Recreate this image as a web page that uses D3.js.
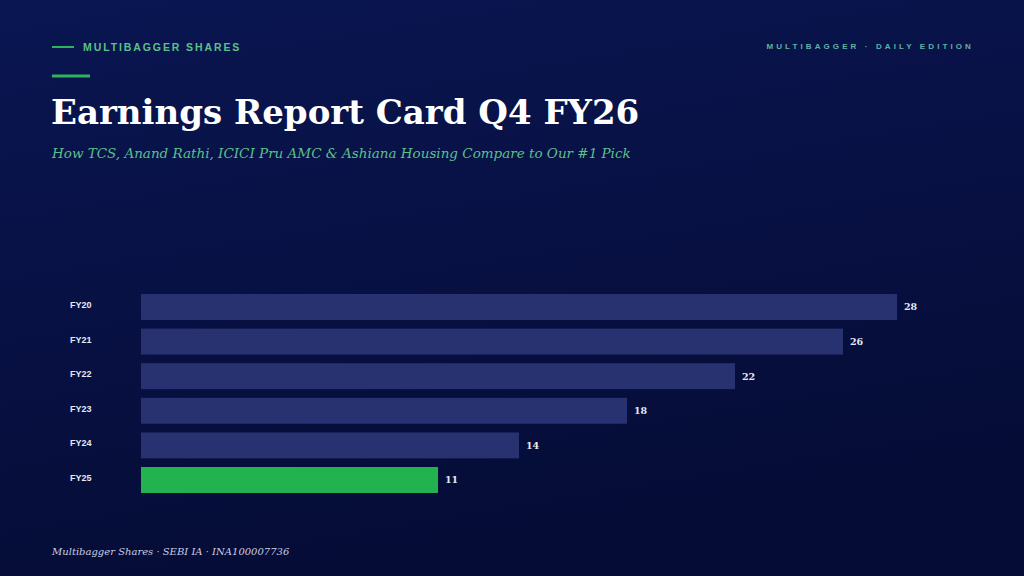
<!DOCTYPE html>
<html>
<head>
<meta charset="utf-8">
<script src="https://cdn.jsdelivr.net/npm/d3@7"></script>
<style>
  html, body { margin: 0; padding: 0; background: #07103f; }
  svg { display: block; }
</style>
</head>
<body>
<div class="container"></div>
<script>
var years = ['FY20', 'FY21', 'FY22', 'FY23', 'FY24', 'FY25'];
var values = [28, 26, 22, 18, 14, 11];
var highlight = ['FY25'];

var drawChart = function () {

    var WIDTH = 1024;
    var HEIGHT = 576;
    var SERIF = "Georgia, 'DejaVu Serif', serif";
    var SANS = "'Liberation Sans', Arial, sans-serif";

    var svg = d3.select('.container')
        .append('svg')
        .attr('width', WIDTH)
        .attr('height', HEIGHT);

    var grad = svg.append('defs').append('linearGradient')
        .attr('id', 'bg')
        .attr('x1', 0).attr('y1', 0)
        .attr('x2', 0.3).attr('y2', 1);
    grad.append('stop').attr('offset', '0%').attr('stop-color', '#0a1652');
    grad.append('stop').attr('offset', '100%').attr('stop-color', '#050c36');

    svg.append('rect')
        .attr('width', WIDTH)
        .attr('height', HEIGHT)
        .attr('fill', 'url(#bg)');

    // header
    svg.append('line')
        .attr('x1', 52).attr('x2', 74)
        .attr('y1', 47).attr('y2', 47)
        .attr('stroke', '#2fb35a')
        .attr('stroke-width', 2);

    svg.append('text')
        .attr('x', 83).attr('y', 51)
        .attr('fill', '#5cc08a')
        .attr('font-family', SANS)
        .attr('font-weight', 'bold')
        .attr('font-size', 10.5)
        .attr('letter-spacing', 1.9)
        .text('MULTIBAGGER SHARES');

    svg.append('text')
        .attr('x', 974).attr('y', 49)
        .attr('text-anchor', 'end')
        .attr('fill', '#5fb3a0')
        .attr('font-family', SANS)
        .attr('font-weight', 'bold')
        .attr('font-size', 8)
        .attr('letter-spacing', 3.1)
        .text('MULTIBAGGER \u00b7 DAILY EDITION');

    svg.append('line')
        .attr('x1', 52).attr('x2', 90)
        .attr('y1', 76).attr('y2', 76)
        .attr('stroke', '#2fb35a')
        .attr('stroke-width', 3);

    svg.append('text')
        .attr('x', 51).attr('y', 124)
        .attr('fill', '#ffffff')
        .attr('font-family', SERIF)
        .attr('font-weight', 'bold')
        .attr('font-size', 34)
        .text('Earnings Report Card Q4 FY26');

    svg.append('text')
        .attr('x', 52).attr('y', 158)
        .attr('fill', '#5cc08a')
        .attr('font-family', SERIF)
        .attr('font-style', 'italic')
        .attr('font-size', 13.5)
        .text('How TCS, Anand Rathi, ICICI Pru AMC & Ashiana Housing Compare to Our #1 Pick');

    // chart
    var xScale = d3.scaleLinear()
        .domain([0, 28])
        .range([141, 897]);

    var yScale = d3.scaleBand()
        .domain(years)
        .range([289.7, 497.3])
        .paddingInner(0.25)
        .paddingOuter(0.125);

    var yAxis = d3.axisLeft(yScale).tickSize(0).tickPadding(0);

    var axisG = svg.append('g')
        .attr('transform', 'translate(70,0)')
        .call(yAxis);
    axisG.select('.domain').remove();
    axisG.selectAll('text')
        .attr('text-anchor', 'start')
        .attr('fill', '#e6e8f2')
        .attr('font-family', SANS)
        .attr('font-weight', 'bold')
        .attr('font-size', 9)
        .attr('dy', '0.1em');

    var rows = years.map(function (y, i) {
        return {year: y, value: values[i]};
    });

    svg.append('g')
        .selectAll('rect')
        .data(rows)
        .enter()
        .append('rect')
        .attr('x', xScale(0))
        .attr('y', function (d) { return yScale(d.year); })
        .attr('width', function (d) { return xScale(d.value) - xScale(0); })
        .attr('height', yScale.bandwidth())
        .attr('fill', function (d) {
            return highlight.indexOf(d.year) >= 0 ? '#22b350' : '#283270';
        });

    svg.append('g')
        .selectAll('text')
        .data(rows)
        .enter()
        .append('text')
        .attr('x', function (d) { return xScale(d.value) + 7; })
        .attr('y', function (d) { return yScale(d.year) + yScale.bandwidth() / 2; })
        .attr('dy', '0.35em')
        .attr('fill', '#e6e8f2')
        .attr('font-family', SERIF)
        .attr('font-weight', 'bold')
        .attr('font-size', 9.5)
        .text(function (d) { return d.value; });

    // footer
    svg.append('text')
        .attr('x', 52).attr('y', 555)
        .attr('fill', '#c9cde3')
        .attr('font-family', SERIF)
        .attr('font-style', 'italic')
        .attr('font-size', 10)
        .text('Multibagger Shares \u00b7 SEBI IA \u00b7 INA100007736');
};

window.onload = drawChart;
</script>
</body>
</html>
